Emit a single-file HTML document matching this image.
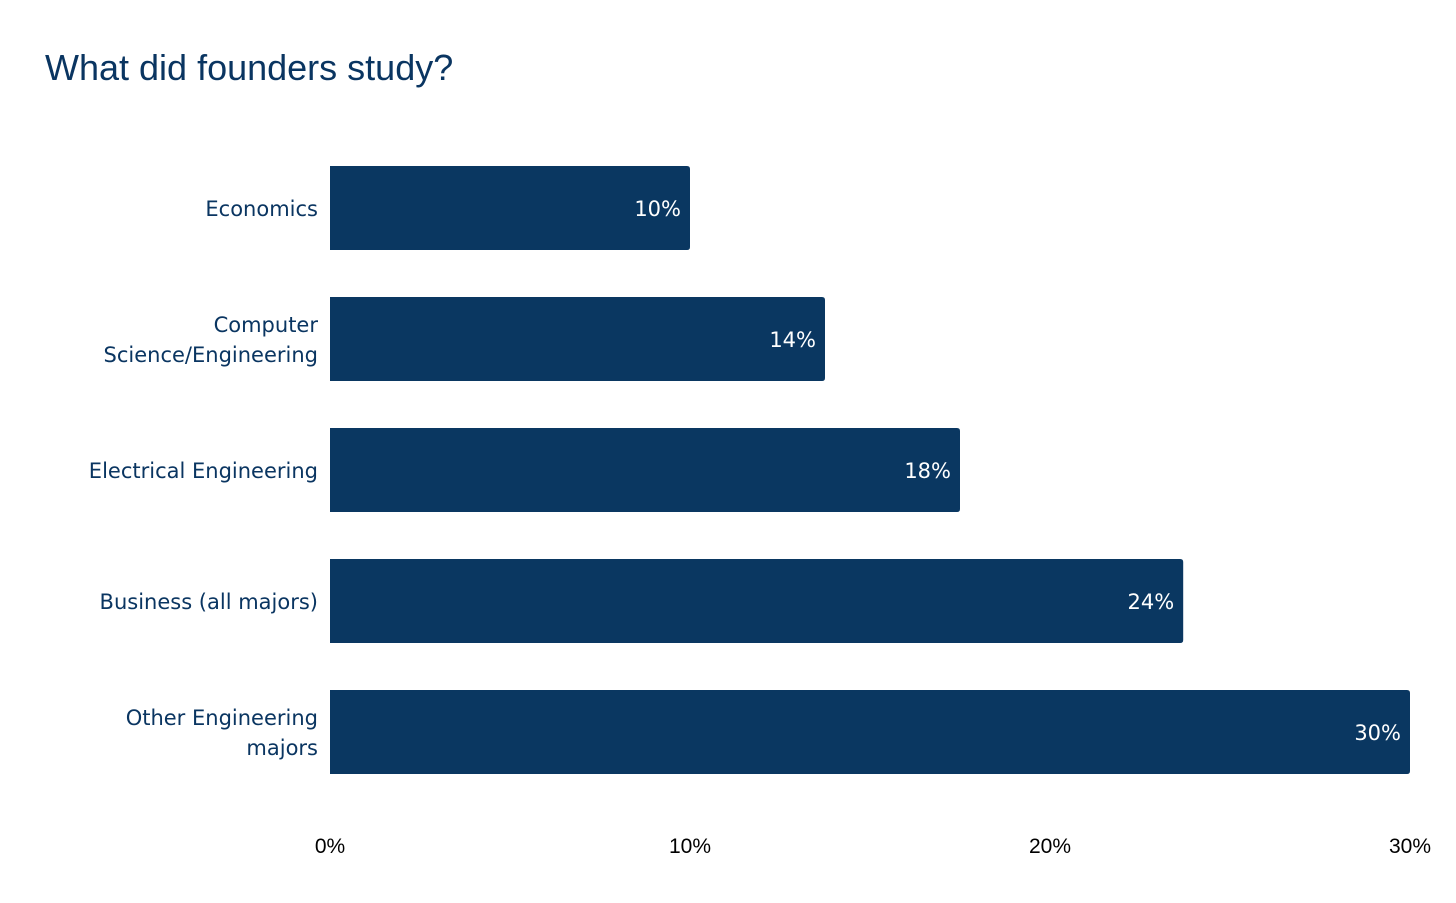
<!DOCTYPE html>
<html><head><meta charset="utf-8"><style>
body{margin:0;background:#fff;width:1456px;height:903px;overflow:hidden}
svg{display:block}
</style></head><body>
<svg id="chart" width="1456" height="903" xmlns="http://www.w3.org/2000/svg">
<text x="45" y="80" font-family="Liberation Sans, sans-serif" font-size="36" fill="#0a3561">What did founders study?</text>
<g id="bars"></g>
<g id="axis"></g>
</svg>
<script>
const categories = [["Economics"],["Computer","Science/Engineering"],["Electrical Engineering"],["Business (all majors)"],["Other Engineering","majors"]];
const values = [10, 13.75, 17.5, 23.7, 30];
const valueLabels = ["10%","14%","18%","24%","30%"];
const ticks = [0,10,20,30];
const tickLabels = ["0%","10%","20%","30%"];

const X0=330, PX=36, Y0=166, STEP=131, BH=84;
const xs=v=>X0+v*PX;
const NS="http://www.w3.org/2000/svg";
const bars=document.getElementById('bars'), axis=document.getElementById('axis');
function mk(tag,attrs,parent){const e=document.createElementNS(NS,tag);for(const k in attrs)e.setAttribute(k,attrs[k]);parent.appendChild(e);return e;}
values.forEach((v,i)=>{
  const y=Y0+i*STEP, w=xs(v)-X0;
  const p=mk('path',{d:`M${X0},${y}H${X0+w-3}Q${X0+w},${y} ${X0+w},${y+3}V${y+BH-3}Q${X0+w},${y+BH} ${X0+w-3},${y+BH}H${X0}Z`,fill:'#0a3761'},bars);
  
  
  const t=mk('text',{x:X0+w-9,y:y+BH/2+8,'text-anchor':'end','font-family':'DejaVu Sans, sans-serif','font-size':'21',fill:'#fff'},bars);
  t.textContent=valueLabels[i];
  
  
  const lines=categories[i];
  const c=mk('text',{x:318,'text-anchor':'end','font-family':'DejaVu Sans, sans-serif','font-size':'21',fill:'#0a3561'},bars);
  
  
  lines.forEach((l,j)=>{const ts=mk('tspan',{x:318,y:y+BH/2+8+(j-(lines.length-1)/2)*30},c);ts.textContent=l;});
});
ticks.forEach((t,i)=>{
  const e=mk('text',{x:xs(t),y:853,'text-anchor':'middle','font-family':'Liberation Sans, sans-serif','font-size':'21',fill:'#000'},axis);
  e.textContent=tickLabels[i];
  
  
});
</script>
</body></html>
